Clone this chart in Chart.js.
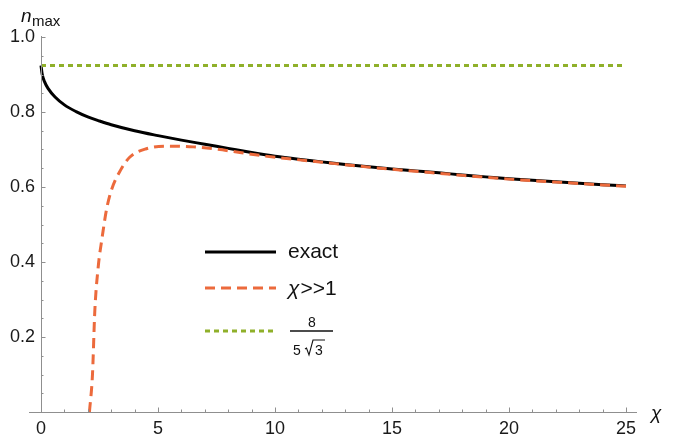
<!DOCTYPE html>
<html>
<head>
<meta charset="utf-8">
<script src="https://cdn.jsdelivr.net/npm/chart.js@4.4.1/dist/chart.umd.min.js"></script>
<style>
  body { margin: 0; background: #fff; }
  #wrap { width: 676px; height: 435px; position: relative; }
</style>
</head>
<body>
<div id="wrap"><canvas id="myChart"></canvas></div>
<script>
// values
const exactX = [0, 0.05, 0.15, 0.3, 0.6, 1, 1.5, 2, 2.5, 3, 4, 5, 6, 7, 8, 9, 10, 11, 12, 13, 14, 15, 16, 17, 18, 19, 20, 21, 22, 23, 24, 25];
const exactY = [0.924, 0.901, 0.881, 0.863, 0.840, 0.819, 0.801, 0.787, 0.776, 0.766, 0.750, 0.737, 0.725, 0.714, 0.703, 0.692, 0.682, 0.674, 0.667, 0.660, 0.654, 0.648, 0.643, 0.638, 0.632, 0.627, 0.622, 0.618, 0.614, 0.610, 0.606, 0.603];
const asymX = [2.07, 2.2, 2.3, 2.45, 2.6, 2.8, 3.0, 3.4, 3.8, 4.5, 5.5, 6.5, 7.5, 8.5, 9.5, 10.5, 12, 14, 16, 18, 20, 22, 25];
const asymY = [0.0, 0.10, 0.27, 0.39, 0.46, 0.54, 0.59, 0.645, 0.68, 0.702, 0.709, 0.707, 0.701, 0.692, 0.683, 0.676, 0.666, 0.653, 0.642, 0.631, 0.621, 0.613, 0.602];
const limitX = [0, 25];
const limitY = [0.9238, 0.9238];
const xTicks = [0, 5, 10, 15, 20, 25];
const yTicks = [0.2, 0.4, 0.6, 0.8, 1.0];

const NEGRO = '#000000';
const LARANJA = '#ec6a3c';
const VERDE = '#8fb02a';
const EIXO = '#8f8f8f';
const FONTE = '"Liberation Sans", Arial, sans-serif';

function pares(xs, ys) {
  var r = [];
  for (var i = 0; i < xs.length; i++) r.push({x: xs[i], y: ys[i]});
  return r;
}

// axes with inward ticks, axis titles and the legend
const eixos = {
  id: 'eixos',
  afterDatasetsDraw(chart) {
    const c = chart.ctx, sx = chart.scales.x, sy = chart.scales.y;
    const x0 = sx.getPixelForValue(0), y0 = sy.getPixelForValue(0);
    c.save();
    c.strokeStyle = EIXO;
    c.lineWidth = 1;
    c.beginPath();
    c.moveTo(x0 - 12, y0 + 0.5); c.lineTo(sx.getPixelForValue(25) + 11, y0 + 0.5);
    c.moveTo(x0 + 0.5, y0); c.lineTo(x0 + 0.5, sy.getPixelForValue(1.0) - 1);
    for (var i = 1; i <= 25; i++) {
      var px = Math.round(sx.getPixelForValue(i)) + 0.5;
      var len = (i % 5 == 0) ? 4.5 : 2.5;
      c.moveTo(px, y0); c.lineTo(px, y0 - len);
    }
    for (var j = 1; j <= 20; j++) {
      var py = Math.round(sy.getPixelForValue(j * 0.05)) + 0.5;
      var len2 = (j % 4 == 0) ? 4.5 : 2.5;
      c.moveTo(x0, py); c.lineTo(x0 + len2, py);
    }
    c.stroke();

    // axis titles
    c.fillStyle = '#111';
    c.textBaseline = 'alphabetic';
    c.textAlign = 'left';
    c.font = 'italic 19px ' + FONTE;
    c.fillText('n', 21, 22);
    c.font = '15px ' + FONTE;
    c.fillText('max', 32, 26);
    c.font = 'italic 19px ' + FONTE;
    c.fillText('\u03c7', 651, 419);

    // legend
    const linhas = [
      {y: 252, cor: NEGRO, dash: []},
      {y: 288, cor: LARANJA, dash: [10, 6]},
      {y: 331, cor: VERDE, dash: [5, 4]}
    ];
    linhas.forEach(function (l) {
      c.strokeStyle = l.cor;
      c.lineWidth = 3;
      c.setLineDash(l.dash);
      c.beginPath();
      c.moveTo(205, l.y); c.lineTo(276, l.y);
      c.stroke();
    });
    c.setLineDash([]);
    c.fillStyle = '#111';
    c.font = '21px ' + FONTE;
    c.fillText('exact', 288, 258);
    c.font = 'italic 21px ' + FONTE;
    c.fillText('\u03c7', 288, 295);
    var w = c.measureText('\u03c7').width;
    c.font = '21px ' + FONTE;
    c.fillText('>>1', 288 + w + 1, 295);

    // 8 / (5 sqrt 3)
    c.font = '14px ' + FONTE;
    c.textAlign = 'center';
    c.fillText('8', 312, 327);
    c.strokeStyle = '#111';
    c.lineWidth = 1.3;
    c.beginPath();
    c.moveTo(290, 331); c.lineTo(333, 331);
    c.stroke();
    c.textAlign = 'left';
    c.fillText('5', 293, 355);
    c.lineWidth = 1.1;
    c.beginPath();
    c.moveTo(305, 349); c.lineTo(306.5, 348); c.lineTo(309, 355); c.lineTo(313, 340); c.lineTo(325, 340);
    c.stroke();
    c.fillText('3', 315, 355);
    c.restore();
  }
};

var ctx = document.getElementById('myChart').getContext('2d');
chart = new Chart(ctx, {
  type: 'line',
  data: {
    datasets: [
      {
        label: '8/(5\u221a3)',
        data: pares(limitX, limitY),
        borderColor: VERDE,
        borderWidth: 3,
        borderDash: [5, 4],
        pointRadius: 0,
        fill: false
      },
      {
        label: '\u03c7>>1',
        data: pares(asymX, asymY),
        borderColor: LARANJA,
        borderWidth: 3,
        borderDash: [10, 6],
        pointRadius: 0,
        cubicInterpolationMode: 'monotone',
        fill: false
      },
      {
        label: 'exact',
        data: pares(exactX, exactY),
        borderColor: NEGRO,
        borderWidth: 3,
        pointRadius: 0,
        cubicInterpolationMode: 'monotone',
        fill: false
      }
    ]
  },
  options: {
    responsive: true,
    maintainAspectRatio: false,
    animation: { duration: 0 },
    clip: false,
    layout: { padding: { top: 37, right: 50, left: 0, bottom: 0 } },
    plugins: { legend: { display: false }, tooltip: { enabled: false } },
    scales: {
      x: {
        type: 'linear',
        min: 0, max: 25,
        afterFit: function (s) { s.height = 23; },
        afterBuildTicks: function (s) { s.ticks = xTicks.map(function (v) { return {value: v}; }); },
        grid: { display: false, drawTicks: false },
        border: { display: false },
        ticks: {
          padding: 6,
          color: '#1a1a1a',
          font: { family: FONTE, size: 18 },
          maxRotation: 0,
          callback: function (v) { return String(v); }
        }
      },
      y: {
        type: 'linear',
        min: 0, max: 1.0,
        afterFit: function (s) { s.width = 41; },
        afterBuildTicks: function (s) { s.ticks = yTicks.map(function (v) { return {value: v}; }); },
        grid: { display: false, drawTicks: false },
        border: { display: false },
        ticks: {
          padding: 6,
          color: '#1a1a1a',
          font: { family: FONTE, size: 18 },
          callback: function (v) { return v.toFixed(1); }
        }
      }
    }
  },
  plugins: [eixos]
});
</script>
</body>
</html>
